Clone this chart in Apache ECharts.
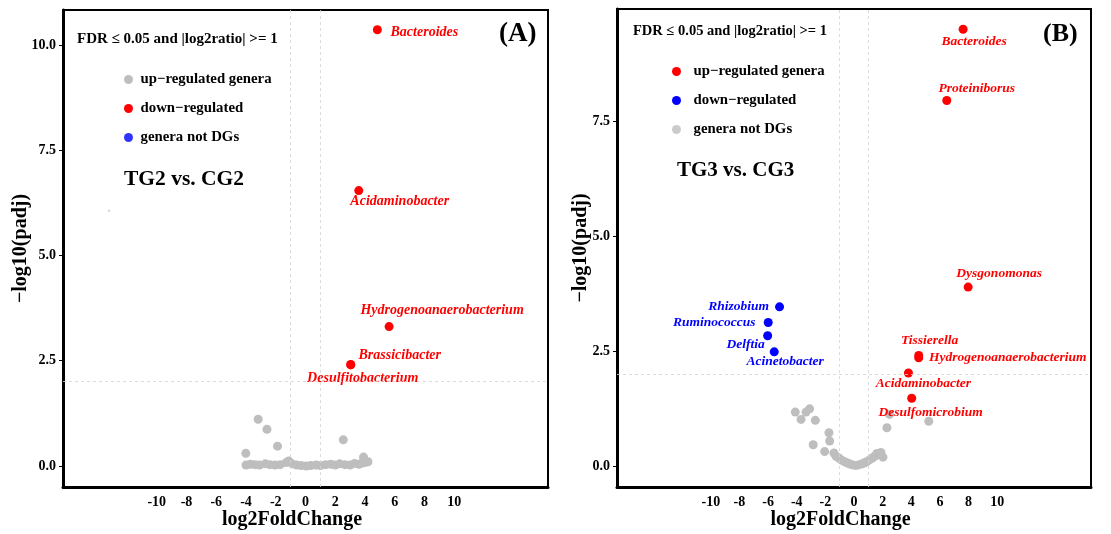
<!DOCTYPE html>
<html>
<head>
<meta charset="utf-8">
<script src="https://cdn.jsdelivr.net/npm/echarts@6/dist/echarts.min.js"></script>
<style>
  html, body { margin: 0; padding: 0; background: #fff; }
  #chart { width: 1111px; height: 534px; }
</style>
</head>
<body>
<div id="chart"></div>
<script>
// ---- data: log2 fold change (x) and -log10(padj) (y) ----
const xTickValues = [-10, -8, -6, -4, -2, 0, 2, 4, 6, 8, 10];
const yTickValuesA = [0, 2.5, 5, 7.5, 10];
const yTickValuesB = [0, 2.5, 5, 7.5];

// Panel A: TG2 vs. CG2
const sigNamesA = ['Bacteroides', 'Acidaminobacter', 'Hydrogenoanaerobacterium', 'Brassicibacter', 'Desulfitobacterium'];
const sigFcA    = [4.83, 3.58, 5.62, 3.04, 3.04];
const sigPadjA  = [10.36, 6.54, 3.31, 2.41, 2.40];
const grayFcA   = [-3.18, -2.59, -1.88, -4.01, 2.54, 3.90, 4.20, 3.75, -4.00, -3.70, -3.40, -3.10, -2.70, -2.40,
                   -2.05, -1.70, -1.30, -1.13, -0.90, -0.60, -0.30, 0.05, 0.35, 0.70, 1.00, 1.35, 1.70, 2.00,
                   2.30, 2.65, 3.00, 3.30, 3.60, 4.00];
const grayPadjA = [1.11, 0.87, 0.47, 0.30, 0.62, 0.21, 0.10, 0.06, 0.02, 0.04, 0.03, 0.02, 0.05, 0.03,
                   0.02, 0.03, 0.08, 0.12, 0.05, 0.02, 0.01, 0.00, 0.01, 0.02, 0.01, 0.03, 0.04, 0.02,
                   0.05, 0.03, 0.02, 0.06, 0.04, 0.08];
const strayFcA = [-13.2];
const strayPadjA = [6.06];

// Panel B: TG3 vs. CG3
const upNamesB = ['Bacteroides', 'Proteiniborus', 'Dysgonomonas', 'Tissierella', 'Hydrogenoanaerobacterium', 'Acidaminobacter', 'Desulfomicrobium'];
const upFcB    = [7.62, 6.48, 7.97, 4.52, 4.52, 3.80, 4.03];
const upPadjB  = [9.51, 7.96, 3.90, 2.41, 2.36, 2.03, 1.48];
const downNamesB = ['Rhizobium', 'Ruminococcus', 'Delftia', 'Acinetobacter'];
const downFcB    = [-5.20, -5.99, -6.03, -5.57];
const downPadjB  = [3.47, 3.13, 2.84, 2.49];
const grayFcB   = [-4.10, -3.70, -3.35, -3.10, -2.70, -1.75, -1.70, -2.85, -2.05, -1.40, -1.25, -1.05, -0.85,
                   -0.65, -0.45, -0.28, -0.10, 0.12, 0.30, 0.52, 0.70, 0.88, 1.08, 1.28, 1.45, 1.66, 1.88,
                   2.02, 1.60, 2.30, 2.48, 5.22];
const grayPadjB = [1.18, 1.02, 1.18, 1.25, 1.00, 0.73, 0.55, 0.47, 0.32, 0.29, 0.22, 0.18, 0.13,
                   0.10, 0.07, 0.05, 0.03, 0.02, 0.03, 0.05, 0.07, 0.10, 0.14, 0.18, 0.22, 0.26, 0.30,
                   0.20, 0.28, 0.84, 1.13, 0.98];

// ---- styles ----
const FONT = '"Liberation Serif", "Times New Roman", serif';
const RED = '#FF0000', BLUE = '#0000FF', GRAY = '#BEBEBE';

// label centre offsets (px) relative to each point
const labelOffsetA = {
  'Bacteroides': [47, 3],
  'Acidaminobacter': [41, 11],
  'Hydrogenoanaerobacterium': [53, -16],
  'Brassicibacter': [49, -9],
  'Desulfitobacterium': [12, 13]
};
const labelOffsetB = {
  'Bacteroides': [11, 12],
  'Proteiniborus': [30, -12],
  'Dysgonomonas': [31, -14],
  'Tissierella': [11, -15],
  'Hydrogenoanaerobacterium': [89, 0],
  'Acidaminobacter': [15, 11],
  'Desulfomicrobium': [19, 14],
  'Rhizobium': [-41, 0],
  'Ruminococcus': [-54, 0],
  'Delftia': [-22, 9],
  'Acinetobacter': [11, 10]
};

function pairs(xs, ys) { return xs.map((x, i) => [x, ys[i]]); }
function labelled(names, xs, ys, offsets, color, size) {
  return names.map((n, i) => ({
    name: n,
    value: [xs[i], ys[i]],
    label: {
      show: true, position: 'inside', offset: offsets[n],
      formatter: '{b}', color: color,
      fontFamily: FONT, fontStyle: 'italic', fontWeight: 'bold', fontSize: size
    }
  }));
}

function xAxisCfg(gi, lim) {
  return {
    gridIndex: gi, type: 'value', min: -lim, max: lim,
    axisLine: { onZero: false, lineStyle: { color: '#000', width: 3 } },
    axisTick: { show: false },
    splitLine: { show: false },
    axisLabel: { customValues: xTickValues, color: '#000', fontFamily: FONT, fontWeight: 'bold', fontSize: 14, margin: 8 },
    name: 'log2FoldChange', nameLocation: 'middle', nameGap: 23, nameMoveOverlap: false,
    nameTextStyle: { color: '#000', fontFamily: FONT, fontWeight: 'bold', fontSize: 20, padding: [0, 27, 0, 0] }
  };
}
function yAxisCfg(gi, lo, hi, ticks, gap) {
  return {
    gridIndex: gi, type: 'value', min: lo, max: hi,
    axisLine: { onZero: false, lineStyle: { color: '#000', width: 3 } },
    axisTick: { show: true, length: 4, customValues: ticks, lineStyle: { color: '#000', width: 1 } },
    splitLine: { show: false },
    axisLabel: { customValues: ticks, formatter: v => v.toFixed(1), color: '#000', fontFamily: FONT, fontWeight: 'bold', fontSize: 14, margin: 7 },
    name: '\u2212log10(padj)', nameLocation: 'middle', nameGap: gap, nameRotate: 90, nameMoveOverlap: false,
    nameTextStyle: { color: '#000', fontFamily: FONT, fontWeight: 'bold', fontSize: 20 }
  };
}
function guides(gi) {
  return {
    type: 'scatter', xAxisIndex: gi, yAxisIndex: gi, data: [], silent: true, z: 1,
    markLine: {
      silent: true, symbol: 'none', label: { show: false },
      lineStyle: { color: '#d4d4d4', type: [3, 3], width: 0.8 },
      data: [{ xAxis: -1 }, { xAxis: 1 }, { yAxis: 2 }]
    }
  };
}
function legendCfg(left, top, w, items) {
  return {
    orient: 'vertical', left: left, top: top, itemWidth: w, itemHeight: 9, itemGap: 14,
    icon: 'circle', selectedMode: false, padding: 0,
    textStyle: { color: '#000', fontFamily: FONT, fontWeight: 'bold', fontSize: 14.8 },
    data: items.map(([n, c]) => ({ name: n, itemStyle: { color: c } }))
  };
}
function textTitle(text, left, top, size) {
  return { text: text, left: left, top: top, padding: 0,
           textStyle: { color: '#000', fontFamily: FONT, fontWeight: 'bold', fontSize: size } };
}

const option = {
  backgroundColor: '#fff',
  animation: false,
  title: [
    textTitle('FDR \u2264 0.05 and |log2ratio| >= 1', 77, 32, 15),
    textTitle('TG2 vs. CG2', 124, 168, 21.5),
    textTitle('(A)', 499, 21, 27),
    textTitle('FDR \u2264 0.05 and |log2ratio| >= 1', 633, 24, 14.5),
    textTitle('TG3 vs. CG3', 677, 160, 21),
    textTitle('(B)', 1043, 21, 26)
  ],
  legend: [
    legendCfg(124, 72, 14, [['up\u2212regulated genera', GRAY], ['down\u2212regulated', RED], ['genera not DGs', BLUE]]),
    legendCfg(672, 64, 24, [['up\u2212regulated genera', RED], ['down\u2212regulated', BLUE], ['genera not DGs', GRAY]])
  ],
  grid: [
    { left: 63, top: 10, width: 485, height: 477, show: true, borderColor: '#000', borderWidth: 2, outerBoundsMode: 'none' },
    { left: 617, top: 9, width: 474, height: 478, show: true, borderColor: '#000', borderWidth: 2, outerBoundsMode: 'none' }
  ],
  xAxis: [xAxisCfg(0, 16.3), xAxisCfg(1, 16.55)],
  yAxis: [yAxisCfg(0, -0.5, 10.83, yTickValuesA, 32), yAxisCfg(1, -0.45, 9.95, yTickValuesB, 26)],
  series: [
    guides(0),
    guides(1),
    // panel A
    { name: 'up\u2212regulated genera', type: 'scatter', xAxisIndex: 0, yAxisIndex: 0, symbolSize: 9,
      itemStyle: { color: GRAY, opacity: 1 }, data: pairs(grayFcA, grayPadjA), z: 2 },
    { name: 'up\u2212regulated genera', type: 'scatter', xAxisIndex: 0, yAxisIndex: 0, symbolSize: 2.5,
      itemStyle: { color: '#cfcfcf' }, data: pairs(strayFcA, strayPadjA), z: 2 },
    { name: 'down\u2212regulated', type: 'scatter', xAxisIndex: 0, yAxisIndex: 0, symbolSize: 9,
      itemStyle: { color: RED, opacity: 1 }, data: labelled(sigNamesA, sigFcA, sigPadjA, labelOffsetA, RED, 14), z: 3 },
    { name: 'genera not DGs', type: 'scatter', xAxisIndex: 0, yAxisIndex: 0, symbolSize: 9,
      itemStyle: { color: BLUE }, data: [] },
    // panel B
    { name: 'genera not DGs', type: 'scatter', xAxisIndex: 1, yAxisIndex: 1, symbolSize: 9,
      itemStyle: { color: GRAY, opacity: 1 }, data: pairs(grayFcB, grayPadjB), z: 2 },
    { name: 'up\u2212regulated genera', type: 'scatter', xAxisIndex: 1, yAxisIndex: 1, symbolSize: 9,
      itemStyle: { color: RED, opacity: 1 }, data: labelled(upNamesB, upFcB, upPadjB, labelOffsetB, RED, 13.5), z: 3 },
    { name: 'down\u2212regulated', type: 'scatter', xAxisIndex: 1, yAxisIndex: 1, symbolSize: 9,
      itemStyle: { color: BLUE, opacity: 1 }, data: labelled(downNamesB, downFcB, downPadjB, labelOffsetB, BLUE, 13.5), z: 3 }
  ]
};

const chart = echarts.init(document.getElementById('chart'), null, { renderer: 'canvas' });
chart.setOption(option);
</script>
</body>
</html>
